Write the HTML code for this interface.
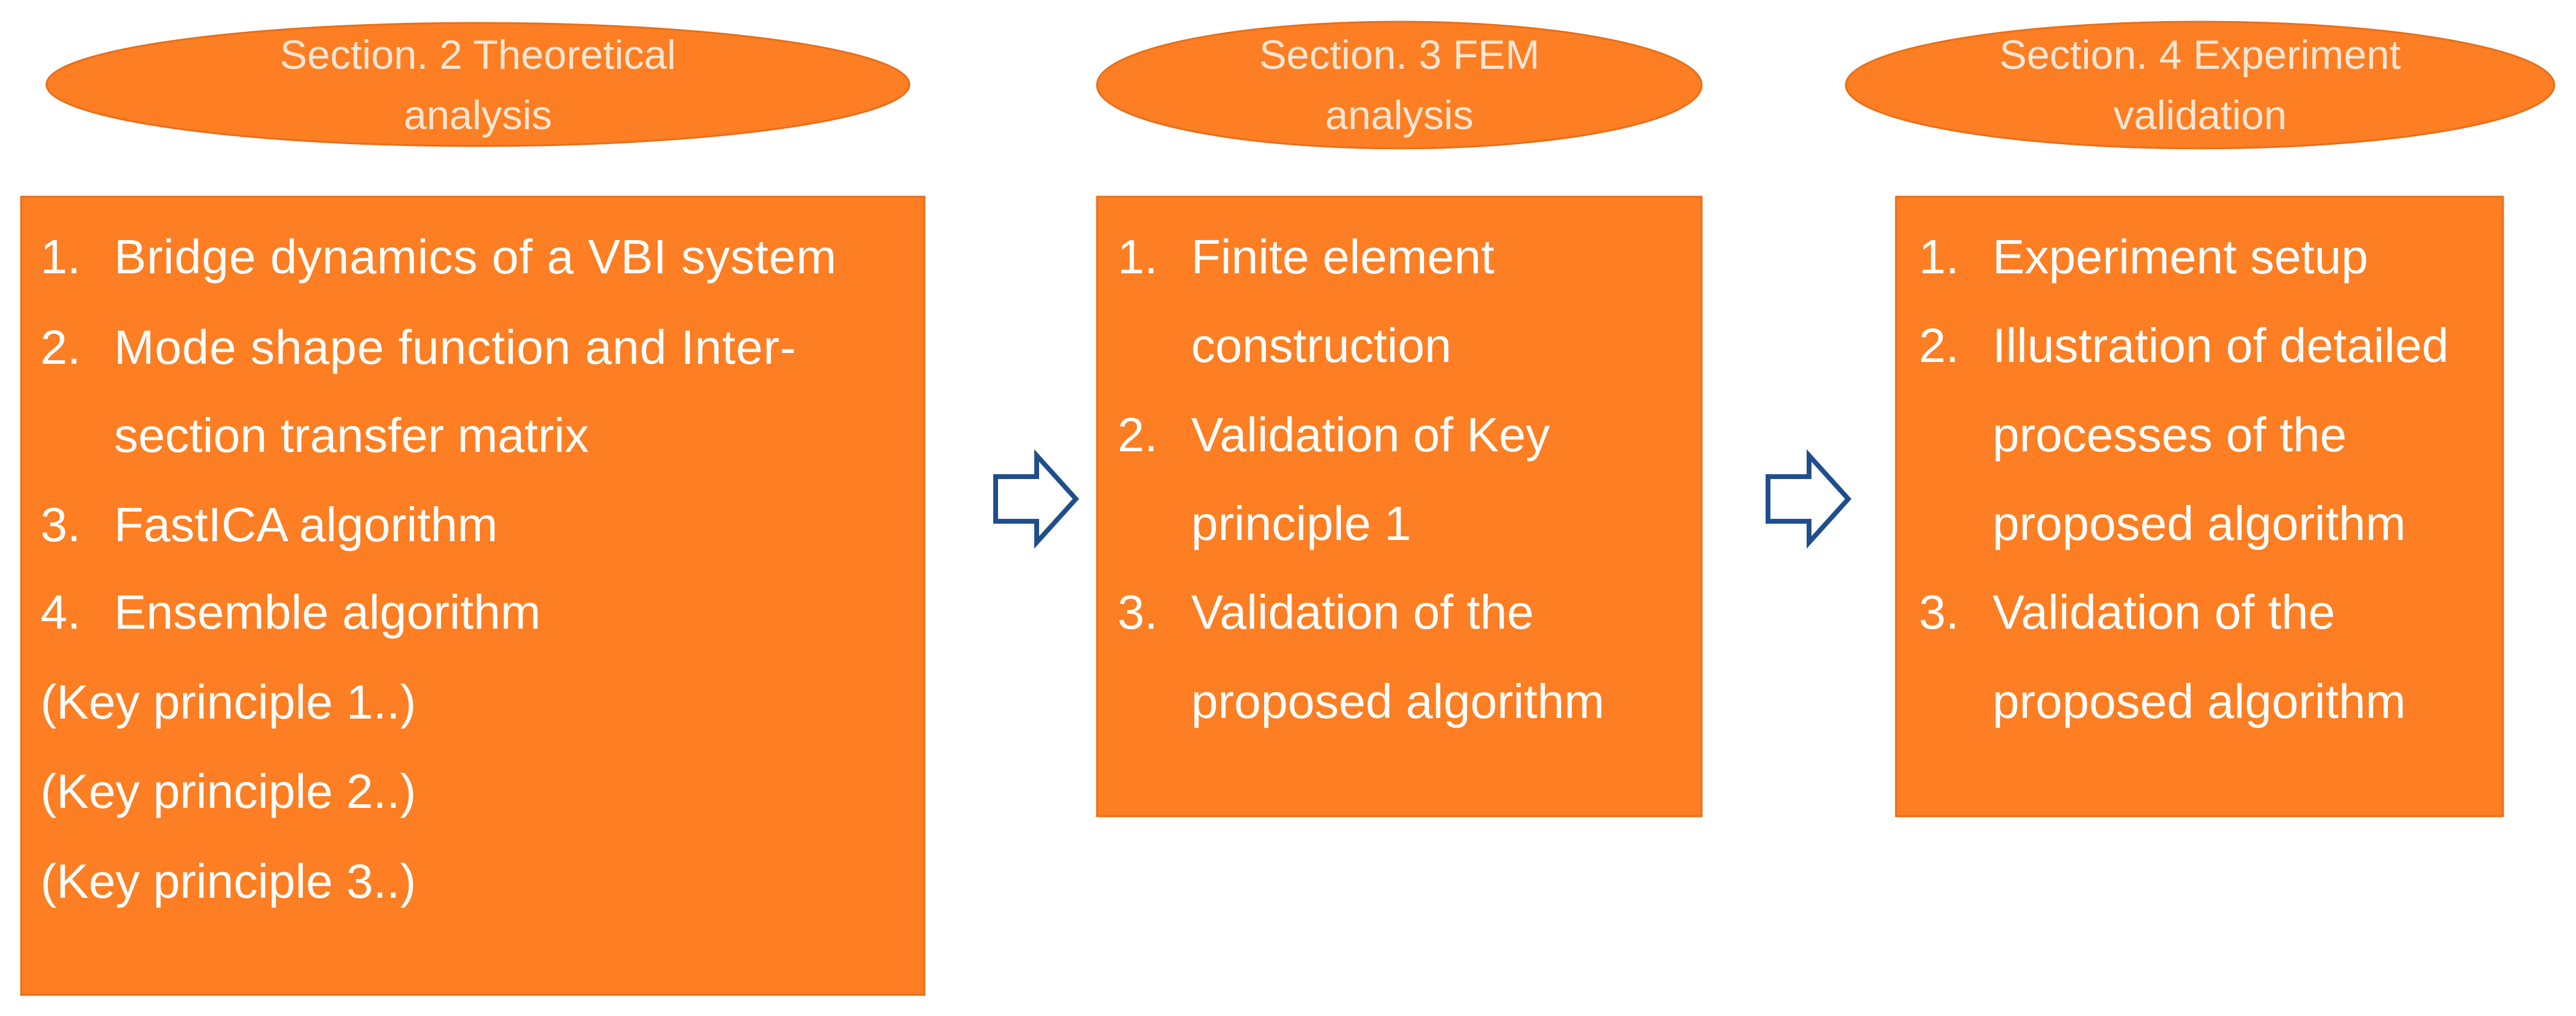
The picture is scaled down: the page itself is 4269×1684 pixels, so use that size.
<!DOCTYPE html>
<html><head><meta charset="utf-8"><style>
html,body{margin:0;padding:0;background:#fff;}
svg{display:block;}
text{font-family:"Liberation Sans",sans-serif;}
.e{fill:#fbe6d4;font-size:68px;text-anchor:middle;}
.t{fill:#fff;font-size:80px;}
</style></head><body>
<svg width="4269" height="1684" viewBox="0 0 4269 1684" xmlns="http://www.w3.org/2000/svg">
<g fill="#FD7E23" stroke="#E66F1C" stroke-width="3">
<ellipse cx="792" cy="140" rx="715" ry="102"/>
<ellipse cx="2319" cy="141" rx="501" ry="105"/>
<ellipse cx="3646" cy="141" rx="587" ry="105"/>
<rect x="35" y="326" width="1497" height="1323"/>
<rect x="1818" y="326" width="1002" height="1027"/>
<rect x="3142" y="326" width="1006" height="1027"/>
</g>
<g fill="#fff" stroke="#1F4E8C" stroke-width="8" stroke-linejoin="miter">
<polygon points="1650,790 1718,790 1718,755 1783,827 1718,899 1718,864 1650,864"/>
<polygon points="2930,790 2998,790 2998,755 3063,827 2998,899 2998,864 2930,864"/>
</g>
<text class="e" x="792" y="114">Section. 2 Theoretical</text>
<text class="e" x="792" y="214">analysis</text>
<text class="e" x="2319" y="114">Section. 3 FEM</text>
<text class="e" x="2319" y="214">analysis</text>
<text class="e" x="3646" y="114">Section. 4 Experiment</text>
<text class="e" x="3646" y="214">validation</text>

<g class="t">
<text class="t" x="67" y="453">1.</text><text class="t" x="189" y="453" textLength="1197">Bridge dynamics of a VBI system</text>
<text class="t" x="67" y="603">2.</text><text class="t" x="189" y="603" textLength="1130">Mode shape function and Inter-</text>
<text class="t" x="189" y="749">section transfer matrix</text>
<text class="t" x="67" y="897">3.</text><text class="t" x="189" y="897">FastICA algorithm</text>
<text class="t" x="67" y="1042">4.</text><text class="t" x="189" y="1042">Ensemble algorithm</text>
<text class="t" x="67" y="1191">(Key principle 1..)</text>
<text class="t" x="67" y="1339">(Key principle 2..)</text>
<text class="t" x="67" y="1488">(Key principle 3..)</text>

<text class="t" x="1852" y="453">1.</text><text class="t" x="1974" y="453">Finite element</text>
<text class="t" x="1974" y="600">construction</text>
<text class="t" x="1852" y="748">2.</text><text class="t" x="1974" y="748">Validation of Key</text>
<text class="t" x="1974" y="895">principle 1</text>
<text class="t" x="1852" y="1042">3.</text><text class="t" x="1974" y="1042">Validation of the</text>
<text class="t" x="1974" y="1190">proposed algorithm</text>

<text class="t" x="3180" y="453">1.</text><text class="t" x="3302" y="453">Experiment setup</text>
<text class="t" x="3180" y="600">2.</text><text class="t" x="3302" y="600">Illustration of detailed</text>
<text class="t" x="3302" y="748">processes of the</text>
<text class="t" x="3302" y="895">proposed algorithm</text>
<text class="t" x="3180" y="1042">3.</text><text class="t" x="3302" y="1042">Validation of the</text>
<text class="t" x="3302" y="1190">proposed algorithm</text>
</g>
</svg>
</body></html>
